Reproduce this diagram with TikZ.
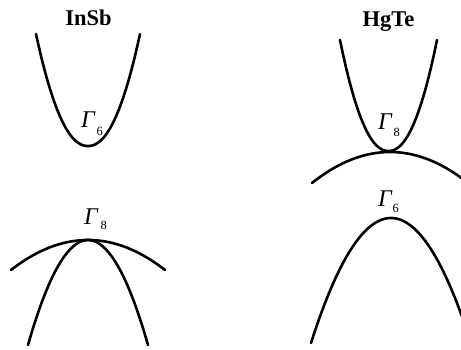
\documentclass[tikz,border=0pt]{standalone}
\usepackage{fontspec}
\setmainfont{Liberation Serif}
\begin{document}
\begin{tikzpicture}[x=1pt,y=-1pt,
  band/.style={line width=2.6pt, line cap=round},
  title/.style={font=\fontsize{22.5}{22.5}\selectfont\bfseries, inner sep=0pt, anchor=base},
  lab/.style={font=\fontsize{24}{24}\selectfont, inner sep=0pt, anchor=base west}]
\useasboundingbox (0,0) rectangle (461,350);
\clip (0,0) rectangle (461,350);
% titles
\node[title] (t1) at (88.5,26) {InSb};
\node[title] (t2) at (388.5,27) {HgTe};
% InSb bands
\draw[band] plot[domain=-52:52, samples=60] ({88+\x},{146-112*(abs(\x)/52)^2.15});
\draw[band] plot[domain=-77:77, samples=60] ({88+\x},{240+30*(\x/77)^2});
\draw[band] plot[domain=-60:60, samples=60] ({88+\x},{240+105*(\x/60)^2});
% HgTe bands
\draw[band] plot[domain=-48.5:48.5, samples=60] ({388.5+\x},{151-111*(abs(\x)/48.5)^2.15});
\draw[band] plot[domain=-78:78, samples=60] ({390+\x},{152+31*(\x/78)^2});
\draw[band] plot[domain=-80:80, samples=60] ({391+\x},{218+125*(\x/80)^2});
% labels
\node[lab] (g6a) at (81,128) {\textit{Γ}\hspace{1pt}\raisebox{-8pt}{\fontsize{12.5}{12.5}\selectfont 6}};
\node[lab] (g8a) at (84,225) {\textit{Γ}\hspace{2pt}\raisebox{-5pt}{\fontsize{12.5}{12.5}\selectfont 8}};
\node[lab] (g8b) at (378,130) {\textit{Γ}\hspace{1pt}\raisebox{-7pt}{\fontsize{12.5}{12.5}\selectfont 8}};
\node[lab] (g6b) at (378,207) {\textit{Γ}\hspace{0pt}\raisebox{-6pt}{\fontsize{12.5}{12.5}\selectfont 6}};
\end{tikzpicture}
\end{document}
